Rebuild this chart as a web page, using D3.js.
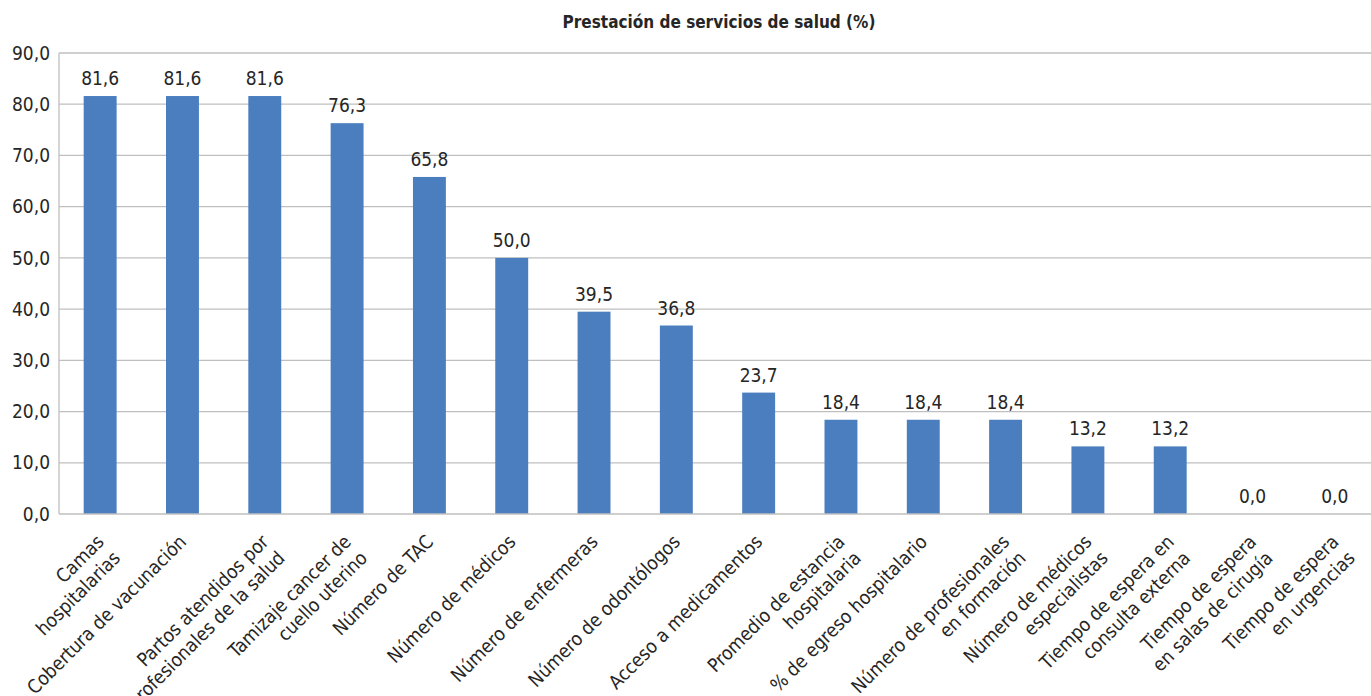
<!DOCTYPE html>
<html lang="es">
<head>
<meta charset="UTF-8">
<title>Prestación de servicios de salud (%)</title>
<script src="https://d3js.org/d3.v7.min.js"></script>
<style>
    body { margin: 0; background: #fff; }
    svg text { font-family: "Liberation Sans Narrow", "DejaVu Sans Condensed", sans-serif; fill: #262626; }
</style>
</head>
<body>
<svg id="chart" width="1371" height="696"></svg>
<script>
// categories (each entry = label lines as they wrap in the original)
const categories = [
    ["Camas", "hospitalarias"],
    ["Cobertura de vacunación"],
    ["Partos atendidos por", "profesionales de la salud"],
    ["Tamizaje cancer de", "cuello uterino"],
    ["Número de TAC"],
    ["Número de médicos"],
    ["Número de enfermeras"],
    ["Número de odontólogos"],
    ["Acceso a medicamentos"],
    ["Promedio de estancia", "hospitalaria"],
    ["% de egreso hospitalario"],
    ["Número de profesionales", "en formación"],
    ["Número de médicos", "especialistas"],
    ["Tiempo de espera en", "consulta externa"],
    ["Tiempo de espera", "en salas de cirugía"],
    ["Tiempo de espera", "en urgencias"]
];
const values = [81.6, 81.6, 81.6, 76.3, 65.8, 50.0, 39.5, 36.8, 23.7, 18.4, 18.4, 18.4, 13.2, 13.2, 0.0, 0.0];
const yTicks = [0, 10, 20, 30, 40, 50, 60, 70, 80, 90];
const title = "Prestación de servicios de salud (%)";

const svg = d3.select("#chart");
const fmt = v => v.toFixed(1).replace(".", ",");
const keys = categories.map((c, i) => i);

const x = d3.scaleBand()
    .domain(keys)
    .range([59, 1376])
    .paddingInner(0.6)
    .paddingOuter(0.3);

const y = d3.scaleLinear()
    .domain([0, 90])
    .range([514, 53]);

// title
svg.append("text")
    .attr("x", 719)
    .attr("y", 28)
    .attr("text-anchor", "middle")
    .style("font-size", "17px")
    .style("font-weight", "bold")
    .text(title);

// gridlines
svg.append("g")
    .selectAll("line")
    .data(yTicks.filter(d => d > 0))
    .enter().append("line")
    .attr("x1", 59)
    .attr("x2", 1371)
    .attr("y1", d => y(d))
    .attr("y2", d => y(d))
    .attr("stroke", "#bfbfbf")
    .attr("stroke-width", 1.3);

// y axis labels
svg.append("g")
    .selectAll("text")
    .data(yTicks)
    .enter().append("text")
    .attr("x", 50)
    .attr("y", d => y(d))
    .attr("dy", "0.35em")
    .attr("text-anchor", "end")
    .style("font-size", "19px")
    .text(d => fmt(d));

// bars
svg.append("g")
    .selectAll("rect")
    .data(values)
    .enter().append("rect")
    .attr("x", (d, i) => x(i))
    .attr("width", x.bandwidth())
    .attr("y", d => y(d))
    .attr("height", d => y(0) - y(d))
    .attr("fill", "#4a7ebf");

// value labels
svg.append("g")
    .selectAll("text")
    .data(values)
    .enter().append("text")
    .attr("x", (d, i) => x(i) + x.bandwidth() / 2)
    .attr("y", d => y(d) - 11)
    .attr("text-anchor", "middle")
    .style("font-size", "19px")
    .text(d => fmt(d));

// axis lines
svg.append("line")
    .attr("x1", 59).attr("x2", 59)
    .attr("y1", 53).attr("y2", 514)
    .attr("stroke", "#bfbfbf").attr("stroke-width", 1.3);
svg.append("line")
    .attr("x1", 59).attr("x2", 1371)
    .attr("y1", 514).attr("y2", 514)
    .attr("stroke", "#bfbfbf").attr("stroke-width", 1.3);

// rotated category labels, lines right-aligned
const lab = svg.append("g")
    .selectAll("g")
    .data(categories)
    .enter().append("g")
    .attr("transform", (d, i) => `translate(${x(i) + x.bandwidth() / 2 + 5},543) rotate(-45)`);

lab.selectAll("text")
    .data(d => d)
    .enter().append("text")
    .attr("x", 0)
    .attr("y", (d, j) => j * 23)
    .attr("text-anchor", "end")
    .style("font-size", "19px")
    .text(d => d);
</script>
</body>
</html>
